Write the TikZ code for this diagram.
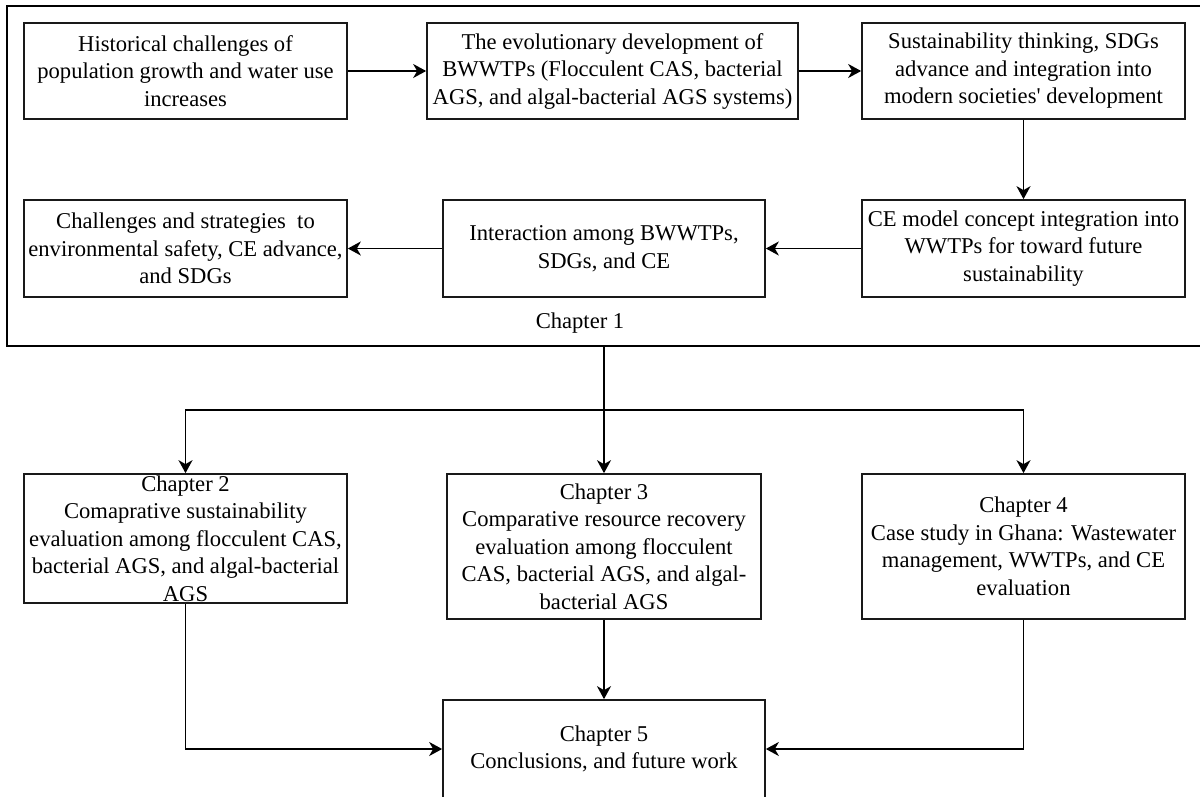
\documentclass[tikz,border=0pt]{standalone}
\usepackage{fontspec}
\setmainfont{Liberation Serif}[Ligatures=TeXOff]
\usetikzlibrary{arrows.meta}
\begin{document}
\begin{tikzpicture}[x=1pt,y=-1pt,
  box/.style={draw=black!90, line width=1.7pt, rectangle, inner sep=0pt, align=center,
    font=\fontsize{22.6}{27.5}\selectfont},
  lbl/.style={inner sep=0pt, font=\fontsize{22.6}{27.5}\selectfont},
  arr/.style={line width=1.8pt, -{Stealth[length=13pt,width=14pt,inset=4pt]}},
  ln/.style={line width=1.8pt}]
\useasboundingbox (0,0) rectangle (1200,796);
\fill[white] (0,0) rectangle (1200,796);
% Chapter 1 frame (right side runs off the picture)
\draw[ln] (1204,6) -- (7,6) -- (7,346) -- (1204,346);
% top row
\node[box, minimum width=323pt, minimum height=96pt] (b1) at (185.5,71)
  {Historical challenges of\\population growth and water use\\increases};
\node[box, minimum width=371pt, minimum height=96pt] (b2) at (612.5,71)
  {The evolutionary development of\\BWWTPs (Flocculent CAS, bacterial\\AGS, and algal-bacterial AGS systems)};
\node[box, minimum width=323pt, minimum height=96pt] (b3) at (1023.5,71)
  {Sustainability thinking, SDGs\\advance and integration into\\modern societies' development};
% second row
\node[box, minimum width=323pt, minimum height=97pt] (b4) at (1023.5,248.5)
  {CE model concept integration into\\WWTPs for toward future\\sustainability};
\node[box, minimum width=322pt, minimum height=97pt] (b5) at (604,248.5)
  {Interaction among BWWTPs,\\SDGs, and CE};
\node[box, minimum width=323pt, minimum height=97pt] (b6) at (185.5,248.5)
  {Challenges and strategies~ to\\environmental safety, CE advance,\\and SDGs};
\node[lbl, anchor=base] (c1) at (580,328) {Chapter 1};
% lower chapters
\node[box, minimum width=323pt, minimum height=129pt] (ch2) at (185.5,538.5)
  {Chapter 2\\Comaprative sustainability\\evaluation among flocculent CAS,\\bacterial AGS, and algal-bacterial\\AGS};
\node[box, minimum width=314pt, minimum height=145pt] (ch3) at (604,546.5)
  {Chapter 3\\Comparative resource recovery\\evaluation among flocculent\\CAS, bacterial AGS, and algal-\\bacterial AGS};
\node[box, minimum width=323pt, minimum height=145pt] (ch4) at (1023.5,546.5)
  {Chapter 4\\Case study in Ghana: Wastewater\\management, WWTPs, and CE\\evaluation};
\node[box, minimum width=322pt, minimum height=98pt] (ch5) at (604,749)
  {Chapter 5\\Conclusions, and future work};
% connectors
\draw[arr] (b1.east) -- (b2.west);
\draw[arr] (b2.east) -- (b3.west);
\draw[arr] (b3.south) -- (b4.north);
\draw[arr] (b4.west) -- (b5.east);
\draw[arr] (b5.west) -- (b6.east);
\coordinate (fb) at (604,346);
\coordinate (split) at (604,410);
\draw[arr] (fb) -- (ch3.north);
\draw[arr] (split) -| (ch2.north);
\draw[arr] (split) -| (ch4.north);
\draw[arr] (ch3.south) -- (ch5.north);
\draw[arr] (ch2.south) |- (ch5.west);
\draw[arr] (ch4.south) |- (ch5.east);
\end{tikzpicture}
\end{document}
